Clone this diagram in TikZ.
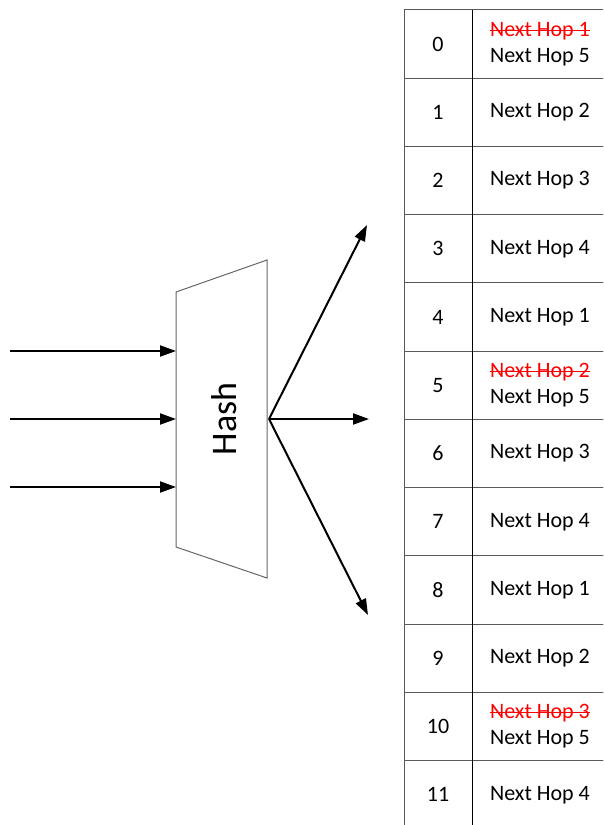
\documentclass[tikz,border=0pt]{standalone}
\usepackage{fontspec}
\setmainfont{Carlito}
\usetikzlibrary{positioning, arrows.meta}
\newsavebox{\hopbox}
\newcommand{\oldhop}[1]{{\color{red}\sbox{\hopbox}{#1}%
  \rlap{\rule[0.25em]{\wd\hopbox}{1.2pt}}\usebox{\hopbox}}}
\tikzset{
  idxcell/.style={
    draw=black!65, line width=1pt, outer sep=0pt,
    minimum width=68pt, minimum height=68.25pt,
    font=\fontsize{22}{26}\selectfont
  },
  hopcell/.style={
    draw=black!65, line width=1pt, outer sep=0pt,
    minimum width=136pt, minimum height=68.25pt,
    align=center, font=\fontsize{22}{26}\selectfont
  },
  hashbox/.style={draw=black!60, line width=1pt},
  flow/.style={-{Triangle[length=16pt,width=11pt]}, line width=2pt},
}
\begin{document}
\begin{tikzpicture}[x=1pt, y=-1pt]
  \useasboundingbox (0,0) rectangle (603,825);
  \clip (0,0) rectangle (603,825);

  % hash block
  \coordinate (tl) at (176,292);
  \coordinate (bl) at (176,547);
  \coordinate (tr) at (267,260);
  \coordinate (br) at (267,578);
  \draw[hashbox] (tl) -- (tr) -- (br) -- (bl) -- cycle;
  \node[rotate=90, font=\fontsize{36}{40}\selectfont] (hash) at (224,419) {Hash};

  % inputs
  \foreach \y [count=\k] in {351,419,487} {
    \coordinate (in\k) at (10,\y);
    \coordinate (hin\k) at (176,\y);
    \draw[flow] (in\k) -- (hin\k);
  }

  % outputs
  \coordinate (hout) at (269,419);
  \coordinate (up) at (367,225);
  \coordinate (mid) at (369,419);
  \coordinate (down) at (368,615);
  \draw[flow] (hout) -- (up);
  \draw[flow] (hout) -- (mid);
  \draw[flow] (hout) -- (down);

  % table
  \foreach \i/\hop in {0/{\oldhop{Next Hop 1}\\Next Hop 5}, 1/Next Hop 2, 2/Next Hop 3,
      3/Next Hop 4, 4/Next Hop 1, 5/{\oldhop{Next Hop 2}\\Next Hop 5}, 6/Next Hop 3,
      7/Next Hop 4, 8/Next Hop 1, 9/Next Hop 2, 10/{\oldhop{Next Hop 3}\\Next Hop 5},
      11/Next Hop 4} {
    \node[idxcell] (idx\i) at (438, {44.1+68.25*\i}) {\i};
    \node[hopcell, right=0pt of idx\i] (hop\i) {\hop};
  }
  \draw[line width=1pt] (idx0.north east) -- (idx11.south east);
\end{tikzpicture}
\end{document}
